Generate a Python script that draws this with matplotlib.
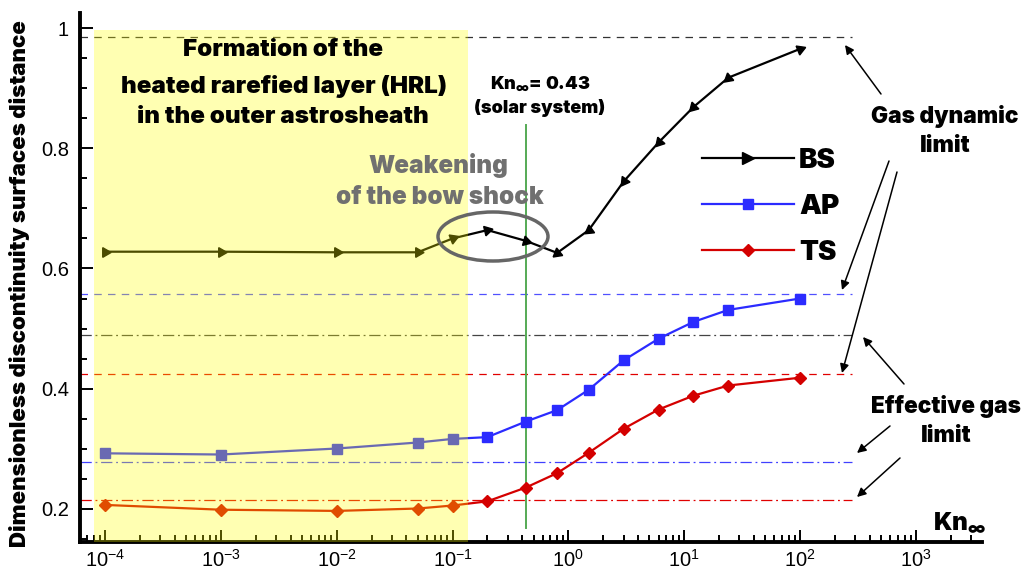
import numpy as np
import matplotlib
matplotlib.use('Agg')
import matplotlib.pyplot as plt
from matplotlib.patches import Ellipse, FancyArrowPatch
from matplotlib.lines import Line2D

# Knudsen numbers of the computed cases
kn = [1e-4, 1e-3, 1e-2, 0.05, 0.1, 0.2, 0.43, 0.8, 1.5, 3, 6, 12, 24, 100]

# discontinuity surface distances
bs = [0.628, 0.628, 0.627, 0.627, 0.650, 0.664, 0.646, 0.626, 0.664, 0.745, 0.810, 0.869, 0.918, 0.966]
ap = [0.292, 0.290, 0.300, 0.310, 0.316, 0.319, 0.345, 0.364, 0.398, 0.447, 0.483, 0.511, 0.531, 0.550]
ts = [0.206, 0.198, 0.196, 0.200, 0.205, 0.212, 0.235, 0.259, 0.293, 0.333, 0.365, 0.388, 0.405, 0.418]

# limiting values: gas dynamic (dashed) and effective gas (dash-dot)
bs_gd, ap_gd, ts_gd = 0.986, 0.558, 0.424
bs_eff, ap_eff, ts_eff = 0.490, 0.278, 0.214
limit_end = 280

kn_solar = 0.43
hrl_range = [8.05e-5, 0.137]

W, H = 1032, 572
heavy = dict(family=['Inter', 'DejaVu Sans'], fontweight=900)


def fpos(x, y):
    # figure fraction from pixel position measured from the top-left corner
    return x / W, 1 - y / H


plt.rcParams['font.family'] = ['Liberation Sans', 'DejaVu Sans']
plt.rcParams['mathtext.fontset'] = 'custom'
plt.rcParams['mathtext.rm'] = 'Liberation Sans'
plt.rcParams['mathtext.bf'] = 'Inter:black'
fig = plt.figure(figsize=(W / 100, H / 100), dpi=100)
ax = fig.add_axes([80 / W, 1 - 542 / H, 902 / W, 529 / H])
ax.set_xscale('log')
ax.set_xlim(6.08e-5, 3720)
ax.set_ylim(0.1442, 1.0258)

# limit lines
dash = (0, (6, 5))
dashdot = (0, (9, 3, 1.5, 3))
lim_x = [ax.get_xlim()[0], limit_end]
ax.plot(lim_x, [bs_gd] * 2, color='#333333', lw=0.9, ls=dash, zorder=2)
ax.plot(lim_x, [ap_gd] * 2, color='#5050ff', lw=0.9, ls=dash, zorder=2)
ax.plot(lim_x, [ts_gd] * 2, color='#e00000', lw=0.9, ls=dash, zorder=2)
ax.plot(lim_x, [bs_eff] * 2, color='#444444', lw=0.9, ls=dashdot, zorder=2)
ax.plot(lim_x, [ap_eff] * 2, color='#4040ff', lw=0.9, ls=dashdot, zorder=2)
ax.plot(lim_x, [ts_eff] * 2, color='#e00000', lw=0.9, ls=dashdot, zorder=2)

# solar system Knudsen number
ax.plot([kn_solar, kn_solar], [0.1675, 0.839], color='#55aa55', lw=1.4, zorder=2)

# curves
ax.plot(kn, ap, color='#2b2bff', lw=1.6, marker='s', ms=7, zorder=3)
ax.plot(kn, ts, color='#d40000', lw=1.6, marker='D', ms=6.5, zorder=3)
ax.plot(kn, bs, color='black', lw=1.6, zorder=3)

# BS triangles are turned along the curve
pts = ax.transData.transform(np.column_stack([kn, bs]))
for i in range(len(kn)):
    j = max(i, 1)
    d = pts[j] - pts[j - 1]
    ang = np.degrees(np.arctan2(d[1], d[0]))
    if 1 < kn[i] < 100:
        ang += 180
    ax.plot(kn[i], bs[i], marker=(3, 0, ang - 90), ms=8, color='black', zorder=3, ls='none')

# heated rarefied layer band, laid over the curves
ax.fill_between(hrl_range, ax.get_ylim()[0], 0.998, color=(1, 1, 0), alpha=0.3, lw=0, zorder=5)

# weakening of the bow shock
c = fig.transFigure.transform(fpos(493, 236.5))
cx, cy = ax.transAxes.inverted().transform(c)
ax.add_patch(Ellipse((cx, cy), 110 / 902, 49 / 529, transform=ax.transAxes,
                     fill=False, ec='#666666', lw=2.5, zorder=6))
fig.text(*fpos(438, 166), 'Weakening', color='#707070', fontsize=17.5, ha='center', va='center', zorder=7, **heavy)
fig.text(*fpos(440, 198), 'of the bow shock', color='#707070', fontsize=17.5, ha='center', va='center', zorder=7, **heavy)

fig.text(*fpos(283, 50), 'Formation of the', fontsize=17.4, ha='center', va='center', **heavy)
fig.text(*fpos(284, 86), 'heated rarefied layer (HRL)', fontsize=17.4, ha='center', va='center', **heavy)
fig.text(*fpos(283, 117), 'in the outer astrosheath', fontsize=17.4, ha='center', va='center', **heavy)

fig.text(*fpos(540, 84), r'Kn$_{\mathbf{\infty}}$= 0.43', fontsize=13, ha='center', va='center', **heavy)
fig.text(*fpos(540, 108), '(solar system)', fontsize=13, ha='center', va='center', **heavy)

fig.text(*fpos(945, 117), 'Gas dynamic', fontsize=16.3, ha='center', va='center', **heavy)
fig.text(*fpos(945, 146), 'limit', fontsize=16.3, ha='center', va='center', **heavy)
fig.text(*fpos(946, 406), 'Effective gas', fontsize=16.3, ha='center', va='center', **heavy)
fig.text(*fpos(946, 436), 'limit', fontsize=16.3, ha='center', va='center', **heavy)

fig.text(*fpos(960, 522), r'Kn$_{\mathbf{\infty}}$', fontsize=17.5, ha='center', va='center', **heavy)

fig.text(*fpos(20, 284), 'Dimensionless discontinuity surfaces distance', fontsize=16,
         rotation=90, ha='center', va='center', **heavy)

# arrows to the limit lines
arrows = [((881, 94), (845, 45)),
          ((889, 161), (842, 290)),
          ((897, 172), (842, 373)),
          ((904, 384), (863, 337)),
          ((890, 426), (857, 453)),
          ((900, 458), (857, 497))]
for start, tip in arrows:
    fig.add_artist(FancyArrowPatch(
        fpos(*start), fpos(*tip), transform=fig.transFigure, arrowstyle='-|>',
        mutation_scale=13, lw=1.1, color='black', shrinkA=0, shrinkB=0))

# legend
handles = [Line2D([], [], color='black', lw=1.6, marker='>', ms=8),
           Line2D([], [], color='#2b2bff', lw=1.6, marker='s', ms=7),
           Line2D([], [], color='#d40000', lw=1.6, marker='D', ms=6.5)]
leg = ax.legend(handles, ['BS', 'AP', 'TS'], loc='upper left', bbox_to_anchor=fpos(688, 134),
                bbox_transform=fig.transFigure, frameon=False, handlelength=3.3,
                handletextpad=0.2, labelspacing=0.72, borderpad=0,
                prop=dict(family='Inter', weight=900, size=20))

# axes styling
for s in ['top', 'right']:
    ax.spines[s].set_visible(False)
for s in ['left', 'bottom']:
    ax.spines[s].set_linewidth(2.8)
ax.set_yticks([0.2, 0.4, 0.6, 0.8, 1.0])
ax.set_yticklabels(['0.2', '0.4', '0.6', '0.8', '1'])
ax.set_yticks(np.arange(0.15, 1.01, 0.05), minor=True)
ax.set_xticks([1e-4, 1e-3, 1e-2, 1e-1, 1, 10, 100, 1000])
ax.set_xticklabels([r'$\mathregular{10^{%d}}$' % e for e in range(-4, 4)])
ax.tick_params(which='both', direction='in', width=1.4, labelsize=14.5)
ax.tick_params(which='major', length=9)
ax.tick_params(which='minor', length=5)
ax.tick_params(axis='y', pad=8)
ax.tick_params(axis='x', pad=5)

fig.savefig('out.png', dpi=100)
